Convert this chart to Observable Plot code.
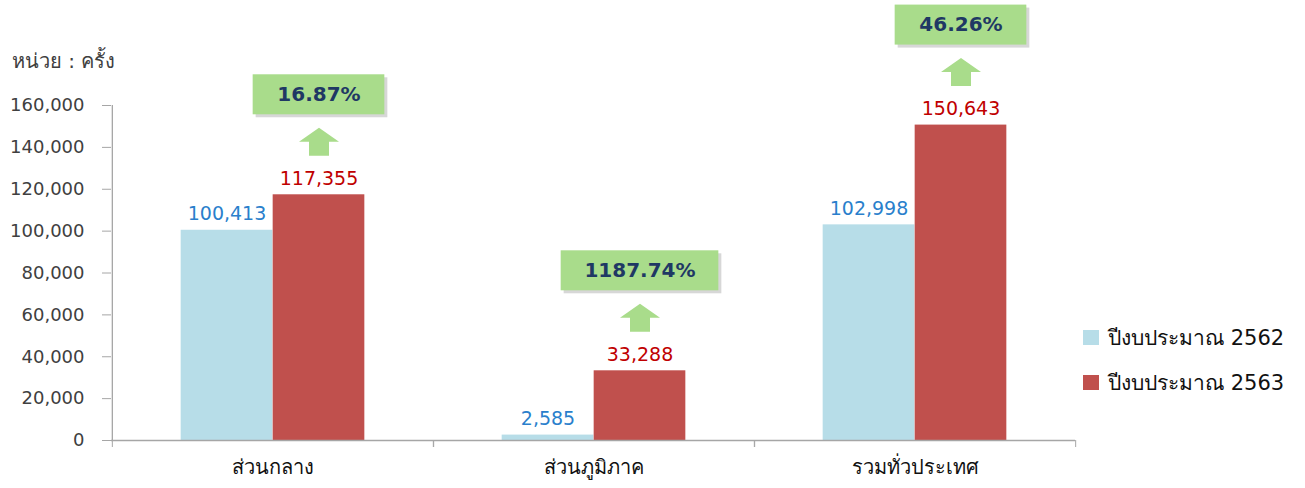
<!DOCTYPE html>
<html>
<head>
<meta charset="utf-8">
<script src="https://cdn.jsdelivr.net/npm/d3@7"></script>
<script src="https://cdn.jsdelivr.net/npm/@observablehq/plot@0.6"></script>
<style>
  html, body { margin: 0; padding: 0; background: #fff; }
  #wrap { position: relative; width: 1305px; height: 488px; font-family: Tahoma, "DejaVu Sans", "Noto Sans", sans-serif; }
  #unit { position: absolute; left: 12px; top: 45px; font-size: 20px; color: #404040; }
  #legend { position: absolute; left: 1083px; top: 323px; font-size: 21px; color: #111; }
  .item { display: flex; align-items: center; height: 28px; margin-bottom: 17px; }
  .sw { width: 16px; height: 15px; margin-right: 9px; }
</style>
</head>
<body>
<div id="wrap">
  <div id="unit"></div>
  <div id="legend"></div>
</div>
<script>
const categories = ["ส่วนกลาง", "ส่วนภูมิภาค", "รวมทั่วประเทศ"];
const seriesNames = ["ปีงบประมาณ 2562", "ปีงบประมาณ 2563"];
const values2562 = [100413, 2585, 102998];
const values2563 = [117355, 33288, 150643];
const growthLabels = ["16.87%", "1187.74%", "46.26%"];
const yTicks = [0, 20000, 40000, 60000, 80000, 100000, 120000, 140000, 160000];
const unitLabel = "หน่วย : ครั้ง";

const colors = ["#b7dde8", "#c0504d"];
const labelColors = ["#2a7fcc", "#c00000"];
const green = "#a9dc8b";

const rows2562 = categories.map((c, i) => ({category: c, value: values2562[i]}));
const rows2563 = categories.map((c, i) => ({category: c, value: values2563[i], growth: growthLabels[i]}));

const W = 1305, H = 488;
const mL = 111, mR = 230, mT = 105, mB = 48;
const step = (W - mL - mR) / categories.length;
const barW = 92;
const outer = (step - 2 * barW) / 2;
const fmt = d3.format(",");

const arrow = {
  draw(ctx, size) {
    const s = Math.sqrt(size / Math.PI);
    ctx.moveTo(0, -0.7 * s);
    ctx.lineTo(s, 0);
    ctx.lineTo(0.5 * s, 0);
    ctx.lineTo(0.5 * s, 0.7 * s);
    ctx.lineTo(-0.5 * s, 0.7 * s);
    ctx.lineTo(-0.5 * s, 0);
    ctx.lineTo(-s, 0);
    ctx.closePath();
  }
};

const boxMarks = [];
rows2563.forEach((r) => {
  const w = 13 * r.growth.length + 54;
  const iL = step / 2 + barW / 2 - w / 2;
  const iR = step / 2 - barW / 2 - w / 2;
  boxMarks.push(Plot.barY([r], {x: "category", y1: "value", y2: "value", insetLeft: iL, insetRight: iR, insetTop: -20, insetBottom: -20, dy: -97, dx: 3, fill: "#9a9a9a", fillOpacity: 0.4}));
  boxMarks.push(Plot.barY([r], {x: "category", y1: "value", y2: "value", insetLeft: iL, insetRight: iR, insetTop: -20, insetBottom: -20, dy: -100, fill: green}));
});

const chart = Plot.plot({
  width: W,
  height: H,
  marginLeft: mL,
  marginRight: mR,
  marginTop: mT,
  marginBottom: mB,
  style: {fontFamily: 'Tahoma, "DejaVu Sans", "Noto Sans", sans-serif', fontSize: "18px", color: "#404040", background: "transparent"},
  x: {domain: categories, padding: 0, label: null},
  y: {domain: [0, 160000], label: null},
  marks: [
    Plot.barY(rows2562, {x: "category", y: "value", fill: colors[0], insetLeft: outer, insetRight: outer + barW}),
    Plot.barY(rows2563, {x: "category", y: "value", fill: colors[1], insetLeft: outer + barW, insetRight: outer}),
    Plot.ruleY([0], {stroke: "#a6a6a6", strokeWidth: 1.3}),
    Plot.ruleX([categories[0]], {y1: 0, y2: 160000, dx: -step / 2, stroke: "#a6a6a6", strokeWidth: 1.3}),
    Plot.axisY({ticks: yTicks, tickFormat: fmt, tickSize: 9, tickPadding: 18, stroke: "#a6a6a6", fill: "#404040", fontSize: 18, label: null}),
    Plot.axisX({tickSize: 7, tickFormat: null, dx: -step / 2, stroke: "#a6a6a6", label: null}),
    Plot.axisX({tickSize: 7, tickFormat: null, dx: step / 2, stroke: "#a6a6a6", label: null}),
    Plot.axisX({tickSize: 0, tickPadding: 19, fill: "#111", fontSize: 20, label: null}),
    Plot.text(rows2562, {x: "category", y: "value", text: d => fmt(d.value), dx: -barW / 2, dy: -16, fill: labelColors[0], fontSize: 19}),
    Plot.text(rows2563, {x: "category", y: "value", text: d => fmt(d.value), dx: barW / 2, dy: -16, fill: labelColors[1], fontSize: 19}),
    Plot.dot(rows2563, {x: "category", y: "value", dx: barW / 2, dy: -53, r: 20, symbol: arrow, fill: green, stroke: "none"}),
    ...boxMarks,
    Plot.text(rows2563, {x: "category", y: "value", text: "growth", dx: barW / 2, dy: -100, fill: "#1f3864", fontWeight: "bold", fontSize: 20, letterSpacing: 0.5})
  ]
});

const wrap = document.getElementById("wrap");
chart.style.position = "absolute";
chart.style.left = "0px";
chart.style.top = "0px";
wrap.insertBefore(chart, wrap.firstChild);
document.getElementById("unit").textContent = unitLabel;
const legend = document.getElementById("legend");
seriesNames.forEach((s, i) => {
  const item = document.createElement("div");
  item.className = "item";
  const sw = document.createElement("div");
  sw.className = "sw";
  sw.style.background = colors[i];
  const t = document.createElement("span");
  t.textContent = s;
  item.appendChild(sw);
  item.appendChild(t);
  legend.appendChild(item);
});
</script>
</body>
</html>
